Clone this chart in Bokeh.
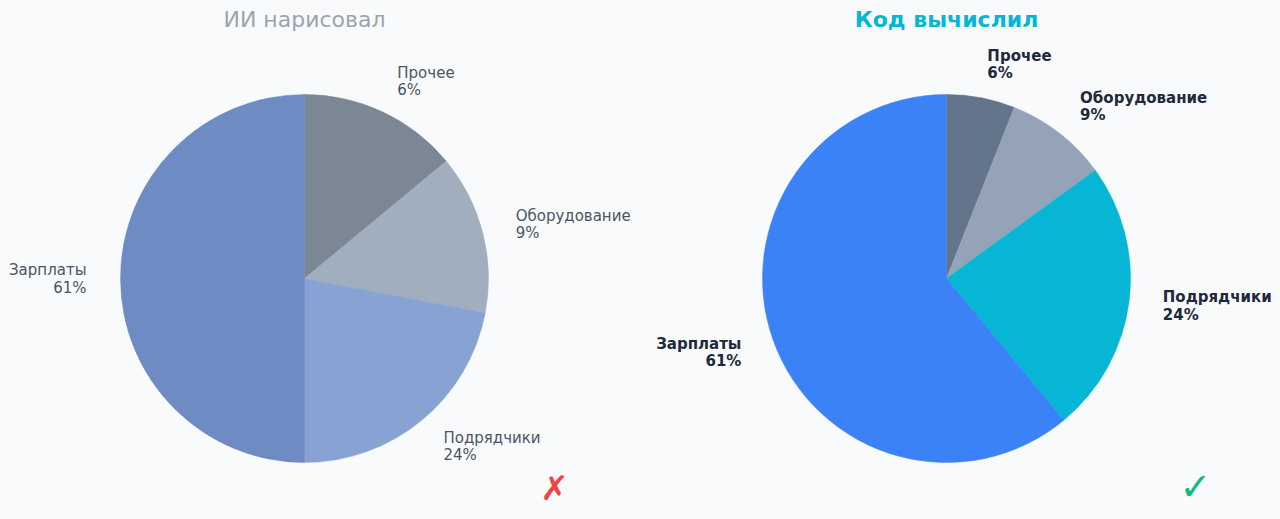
import math
from bokeh.plotting import figure
from bokeh.models import Range1d, ColumnDataSource
from bokeh.core.properties import value
from bokeh.embed import file_html
from bokeh.resources import INLINE

# ---- data ----
categories = ["Прочее", "Оборудование", "Подрядчики", "Зарплаты"]
share_labels = ["6%", "9%", "24%", "61%"]
ai_drawn_values = [14, 14, 22, 50]      # shares the "AI" pie actually drew
computed_values = [6, 9, 24, 61]        # correct shares
ai_colors = ["#7b8794", "#a1aebd", "#89a2d4", "#6e8bc4"]
code_colors = ["#64748b", "#94a3b8", "#06b6d4", "#3b82f6"]
titles = ["ИИ нарисовал", "Код вычислил"]

W, H = 1280, 519
FONT = "DejaVu Sans"

p = figure(width=W, height=H, output_backend="svg", toolbar_location=None,
           x_range=Range1d(0, W), y_range=Range1d(0, H),
           min_border=0, background_fill_color="#f8fafc",
           border_fill_color="#f8fafc", outline_line_color=None)
p.axis.visible = False
p.grid.visible = False


def py(page_y):
    return H - page_y


R = 184
LR = 218


def pie(cx, cy, vals, colors, bold, label_color):
    total = sum(vals)
    starts, ends, mids = [], [], []
    cum = 0
    for v in vals:
        s = 90 - cum / total * 360
        cum += v
        e = 90 - cum / total * 360
        starts.append(math.radians(s))
        ends.append(math.radians(e))
        mids.append(math.radians((s + e) / 2))
    src = ColumnDataSource(dict(x=[cx] * len(vals), y=[cy] * len(vals),
                                start=starts, end=ends, color=colors))
    p.wedge(x="x", y="y", radius=R, start_angle="start", end_angle="end",
            direction="clock", fill_color="color", line_color="color",
            line_width=0.5, source=src)
    for name, pct, m in zip(categories, share_labels, mids):
        lx = cx + LR * math.cos(m)
        ly = cy + LR * math.sin(m)
        align = "left" if math.cos(m) > 0.01 else "right"
        style = "bold" if bold else "normal"
        p.text(x=[lx], y=[ly + 8.5], text=[name], text_align=align,
               text_baseline="middle", text_font=value(FONT),
               text_font_size="15px", text_font_style=style,
               text_color=label_color)
        p.text(x=[lx], y=[ly - 9], text=[pct], text_align=align,
               text_baseline="middle", text_font=value(FONT),
               text_font_size="15px", text_font_style=style,
               text_color=label_color)


left_cx, right_cx, cy = 304, 946, py(278)
pie(left_cx, cy, ai_drawn_values, ai_colors, False, "#4b5563")
pie(right_cx, cy, computed_values, code_colors, True, "#1e293b")

p.text(x=[left_cx], y=[py(19)], text=[titles[0]], text_align="center",
       text_baseline="middle", text_font=value(FONT), text_font_size="22px",
       text_color="#9ca3af")
p.text(x=[right_cx], y=[py(19)], text=[titles[1]], text_align="center",
       text_baseline="middle", text_font=value(FONT), text_font_size="22px",
       text_font_style="bold", text_color="#06b6d4")

p.text(x=[554], y=[py(487)], text=["✗"], text_align="center",
       text_baseline="middle", text_font=value(FONT), text_font_size="34px",
       text_color="#ef4444")
p.text(x=[1195], y=[py(486)], text=["✓"], text_align="center",
       text_baseline="middle", text_font=value(FONT), text_font_size="38px",
       text_font_style="bold", text_color="#10b981")

html = file_html(p, INLINE)
html = html.replace("<body>", '<body style="background:#f8fafc">', 1)
open("out.html", "w").write(html)
